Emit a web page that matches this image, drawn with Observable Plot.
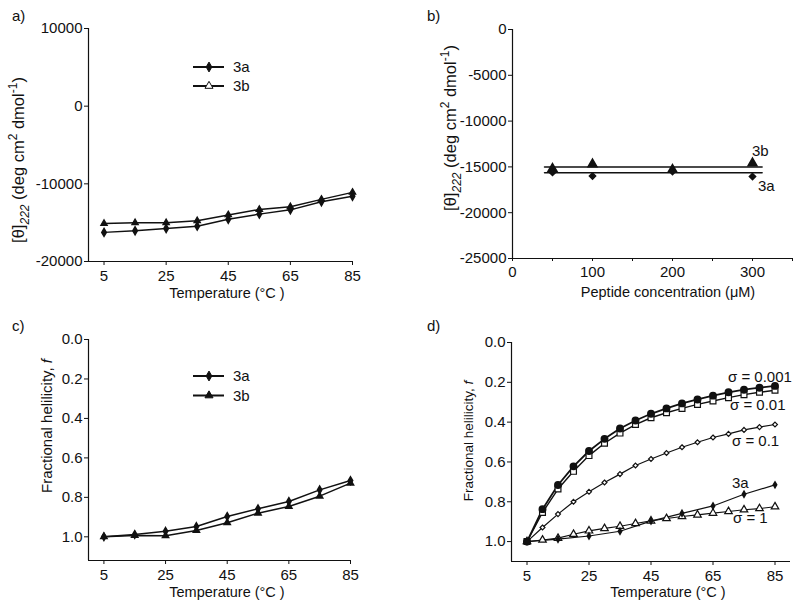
<!DOCTYPE html>
<html><head><meta charset="utf-8">
<script src="https://cdn.jsdelivr.net/npm/d3@7"></script>
<script src="https://cdn.jsdelivr.net/npm/@observablehq/plot@0.6"></script>
<style>
body{margin:0;background:#fff;}
#wrap{position:relative;width:800px;height:608px;font-family:"Liberation Sans",Arial,sans-serif;color:#111;}
#wrap svg{position:absolute;overflow:visible;}
</style></head><body><div id="wrap"></div>
<script>
// ---- data ----
const tempA = [5, 15, 25, 35, 45, 55, 65, 75, 85];
const theta3a = [-16250, -16050, -15750, -15450, -14550, -13900, -13350, -12300, -11600];
const theta3b = [-15100, -15000, -15000, -14750, -14000, -13300, -12950, -12000, -11100];
const conc = [50, 100, 200, 300];
const conc3a = [-15600, -16000, -15500, -16050];
const conc3b = [-15200, -14700, -15300, -14600];
const fitConc = [40, 312];
const fit3a = [-15650, -15650];
const fit3b = [-15000, -15000];
const frac3a = [1.0, 0.988, 0.972, 0.948, 0.897, 0.858, 0.821, 0.762, 0.715];
const frac3b = [1.0, 0.993, 0.995, 0.968, 0.929, 0.880, 0.846, 0.794, 0.728];
const tempD = [5, 10, 15, 20, 25, 30, 35, 40, 45, 50, 55, 60, 65, 70, 75, 80, 85];
const sig0001 = [1.0, 0.837, 0.716, 0.622, 0.545, 0.484, 0.432, 0.392, 0.358, 0.331, 0.306, 0.286, 0.267, 0.250, 0.237, 0.227, 0.218];
const sig001 = [1.0, 0.854, 0.736, 0.647, 0.568, 0.506, 0.455, 0.412, 0.378, 0.353, 0.331, 0.311, 0.294, 0.277, 0.262, 0.250, 0.240];
const sig01 = [1.0, 0.929, 0.862, 0.800, 0.750, 0.703, 0.661, 0.618, 0.585, 0.555, 0.526, 0.501, 0.477, 0.459, 0.439, 0.425, 0.412];
const sig1 = [1.0, 0.992, 0.983, 0.963, 0.946, 0.934, 0.923, 0.909, 0.896, 0.884, 0.874, 0.866, 0.857, 0.849, 0.840, 0.834, 0.825];
const tempTicks = [5, 25, 45, 65, 85];
const thetaTicksA = [-20000, -10000, 0, 10000];
const thetaTicksB = [-25000, -20000, -15000, -10000, -5000, 0];
const concTicks = [0, 50, 100, 150, 200, 250, 300, 350];
const fracTicks = [0, 0.2, 0.4, 0.6, 0.8, 1.0];
const legendNames = ["3a", "3b"];
const sigmaNames = ["σ = 0.001", "σ = 0.01", "σ = 0.1", "3a", "σ = 1"];

// ---- helpers ----
const FONT = '"Liberation Sans", Arial, sans-serif';
const wrap = document.getElementById("wrap");
const zip = (xs, ys) => xs.map((x, i) => ({x, y: ys[i]}));
const fmt1 = d3.format(".1f");

function place(svg, left, top) {
  svg.style.left = left + "px";
  svg.style.top = top + "px";
  wrap.appendChild(svg);
  return d3.select(svg);
}
function txt(sel, x, y, s, opt = {}) {
  return sel.append("text").attr("x", x).attr("y", y).attr("dy", "0.35em")
    .attr("text-anchor", opt.anchor || "start").attr("font-size", opt.size || 14.5)
    .attr("font-family", FONT).attr("fill", "#111").text(s);
}
function yLabelTheta(sel, x, y) {
  const t = sel.append("text").attr("transform", `translate(${x},${y}) rotate(-90)`)
    .attr("text-anchor", "middle").attr("dy", "0.35em").attr("font-size", 16.5)
    .attr("font-family", FONT).attr("fill", "#111");
  t.append("tspan").text("[θ]");
  t.append("tspan").attr("font-style", "italic").attr("font-size", 12).attr("dy", 5).text("222");
  t.append("tspan").attr("dy", -5).text(" (deg cm");
  t.append("tspan").attr("font-size", 12).attr("dy", -7).text("2");
  t.append("tspan").attr("dy", 7).text(" dmol");
  t.append("tspan").attr("font-size", 12).attr("dy", -7).text("-1");
  t.append("tspan").attr("dy", 7).text(")");
}
function yLabelFrac(sel, x, y, size) {
  const t = sel.append("text").attr("transform", `translate(${x},${y}) rotate(-90)`)
    .attr("text-anchor", "middle").attr("dy", "0.35em").attr("font-size", size)
    .attr("font-family", FONT).attr("fill", "#111");
  t.append("tspan").text("Fractional helilicity, ");
  t.append("tspan").attr("font-style", "italic").text("f");
}
function legend(sel, x0, y, symbol, fill, label) {
  sel.append("line").attr("x1", x0).attr("x2", x0 + 31).attr("y1", y).attr("y2", y)
    .attr("stroke", "#111").attr("stroke-width", 2);
  sel.append("path").attr("d", d3.symbol(symbol, 28)())
    .attr("transform", `translate(${x0 + 16},${y})`).attr("fill", fill).attr("stroke", "#111");
  txt(sel, x0 + 40, y, label, {size: 15});
}
const style = {fontFamily: FONT, fontSize: "15px", color: "#111", background: "transparent", overflow: "visible"};
const strFmt = d => String(d);

// ---- panel a ----
const svgA = Plot.plot({
  width: 400, height: 300, marginLeft: 88, marginRight: 48, marginTop: 28, marginBottom: 39, style,
  x: {domain: [0, 85]}, y: {domain: [-20000, 10000]},
  marks: [
    Plot.axisX({ticks: tempTicks, tickSize: 4, tickPadding: 5, tickFormat: strFmt, label: null}),
    Plot.axisY({ticks: thetaTicksA, tickSize: 4, tickPadding: 2, tickFormat: strFmt, label: null}),
    Plot.ruleX([0], {stroke: "#111", strokeWidth: 1.2}),
    Plot.ruleY([-20000], {stroke: "#111", strokeWidth: 1.2}),
    Plot.line(zip(tempA, theta3b), {x: "x", y: "y", stroke: "#111", strokeWidth: 1.5}),
    Plot.line(zip(tempA, theta3a), {x: "x", y: "y", stroke: "#111", strokeWidth: 1.5}),
    Plot.dot(zip(tempA, theta3b), {x: "x", y: "y", symbol: "triangle", r: 2.4, fill: "#111", stroke: "#111", strokeWidth: 1.2}),
    Plot.dot(zip(tempA, theta3a), {x: "x", y: "y", symbol: "diamond", r: 2.4, fill: "#111", stroke: "#111"})
  ]
});
const a = place(svgA, 0, 0);
txt(a, 12, 16, "a)", {size: 15});
yLabelTheta(a, 18, 160);
txt(a, 227, 293, "Temperature (°C )", {anchor: "middle"});
legend(a, 193, 67, d3.symbolDiamond, "#111", legendNames[0]);
legend(a, 193, 86, d3.symbolTriangle, "white", legendNames[1]);

// ---- panel b ----
const svgB = Plot.plot({
  width: 400, height: 300, marginLeft: 112, marginRight: 8, marginTop: 29, marginBottom: 42, style,
  x: {domain: [0, 350]}, y: {domain: [-25000, 0]},
  marks: [
    Plot.axisX({ticks: concTicks, tickSize: 3, tickPadding: 5, tickFormat: d => d % 100 === 0 ? String(d) : "", label: null}),
    Plot.axisY({ticks: thetaTicksB, tickSize: 4, tickPadding: 2, tickFormat: strFmt, label: null}),
    Plot.ruleX([0], {stroke: "#111", strokeWidth: 1.2}),
    Plot.ruleY([-25000], {stroke: "#111", strokeWidth: 1.2}),
    Plot.line(zip(fitConc, fit3b), {x: "x", y: "y", stroke: "#111", strokeWidth: 1.5}),
    Plot.line(zip(fitConc, fit3a), {x: "x", y: "y", stroke: "#111", strokeWidth: 1.5}),
    Plot.dot(zip(conc, conc3b), {x: "x", y: "y", symbol: "triangle", r: 3.3, fill: "#111", stroke: "#111"}),
    Plot.dot(zip(conc, conc3a), {x: "x", y: "y", symbol: "diamond2", r: 2.8, fill: "#111", stroke: "#111"})
  ]
});
const b = place(svgB, 400, 0);
txt(b, 27, 16, "b)", {size: 15});
yLabelTheta(b, 50, 128);
txt(b, 268, 292, "Peptide concentration (μM)", {anchor: "middle"});
txt(b, 352, 151, legendNames[1], {size: 15});
txt(b, 358, 186, legendNames[0], {size: 15});

// ---- panel c ----
const svgC = Plot.plot({
  width: 400, height: 308, marginLeft: 88, marginRight: 50, marginTop: 39, marginBottom: 48, style,
  x: {domain: [0, 85]}, y: {domain: [0, 1.12], reverse: true},
  marks: [
    Plot.axisX({ticks: tempTicks, tickSize: 4, tickPadding: 5, tickFormat: strFmt, label: null}),
    Plot.axisY({ticks: fracTicks, tickSize: 4, tickPadding: 2, tickFormat: fmt1, label: null}),
    Plot.ruleX([0], {stroke: "#111", strokeWidth: 1.2}),
    Plot.ruleY([1.12], {stroke: "#111", strokeWidth: 1.2}),
    Plot.line(zip(tempA, frac3b), {x: "x", y: "y", stroke: "#111", strokeWidth: 1.5}),
    Plot.line(zip(tempA, frac3a), {x: "x", y: "y", stroke: "#111", strokeWidth: 1.5}),
    Plot.dot(zip(tempA, frac3b), {x: "x", y: "y", symbol: "triangle", r: 2.3, fill: "#111", stroke: "#111"}),
    Plot.dot(zip(tempA, frac3a), {x: "x", y: "y", symbol: "diamond", r: 2.3, fill: "#111", stroke: "#111"})
  ]
});
const c = place(svgC, 0, 300);
txt(c, 12, 26, "c)", {size: 15});
yLabelFrac(c, 47, 126, 15);
txt(c, 227, 292, "Temperature (°C )", {anchor: "middle"});
legend(c, 193, 76, d3.symbolDiamond, "#111", legendNames[0]);
legend(c, 193, 95.5, d3.symbolTriangle, "#111", legendNames[1]);

// ---- panel d ----
const svgD = Plot.plot({
  width: 400, height: 308, marginLeft: 111, marginRight: 10, marginTop: 42, marginBottom: 47, style,
  x: {domain: [0, 90]}, y: {domain: [0, 1.1], reverse: true},
  marks: [
    Plot.axisX({ticks: tempTicks, tickSize: 4, tickPadding: 5, tickFormat: strFmt, label: null}),
    Plot.axisY({ticks: fracTicks, tickSize: 4, tickPadding: 2, tickFormat: fmt1, label: null}),
    Plot.ruleX([0], {stroke: "#111", strokeWidth: 1.2}),
    Plot.ruleY([1.1], {stroke: "#111", strokeWidth: 1.2}),
    Plot.line(zip(tempD, sig1), {x: "x", y: "y", stroke: "#111", strokeWidth: 1.2}),
    Plot.line(zip(tempA, frac3a), {x: "x", y: "y", stroke: "#111", strokeWidth: 1.2}),
    Plot.line(zip(tempD, sig01), {x: "x", y: "y", stroke: "#111", strokeWidth: 1.2}),
    Plot.line(zip(tempD, sig001), {x: "x", y: "y", stroke: "#111", strokeWidth: 1.4}),
    Plot.line(zip(tempD, sig0001), {x: "x", y: "y", stroke: "#111", strokeWidth: 1.8}),
    Plot.dot(zip(tempD, sig1), {x: "x", y: "y", symbol: "triangle", r: 2.8, fill: "white", stroke: "#111", strokeWidth: 1.2}),
    Plot.dot(zip(tempA, frac3a), {x: "x", y: "y", symbol: "diamond", r: 1.8, fill: "#111", stroke: "#111"}),
    Plot.dot(zip(tempD, sig01), {x: "x", y: "y", symbol: "diamond2", r: 2.2, fill: "white", stroke: "#111", strokeWidth: 1.2}),
    Plot.dot(zip(tempD, sig001), {x: "x", y: "y", symbol: "square", r: 3.3, fill: "white", stroke: "#111", strokeWidth: 1.2}),
    Plot.dot(zip(tempD, sig0001), {x: "x", y: "y", symbol: "circle", r: 3.2, fill: "#111", stroke: "#111"})
  ]
});
const dd = place(svgD, 400, 300);
txt(dd, 27, 26, "d)", {size: 15});
yLabelFrac(dd, 68, 141, 13.5);
txt(dd, 268, 292, "Temperature (°C )", {anchor: "middle"});
txt(dd, 328, 77, sigmaNames[0], {size: 15});
txt(dd, 330, 105, sigmaNames[1], {size: 15});
txt(dd, 332, 141, sigmaNames[2], {size: 15});
txt(dd, 332, 183, sigmaNames[3], {size: 15});
txt(dd, 333, 218, sigmaNames[4], {size: 15});
</script></body></html>
